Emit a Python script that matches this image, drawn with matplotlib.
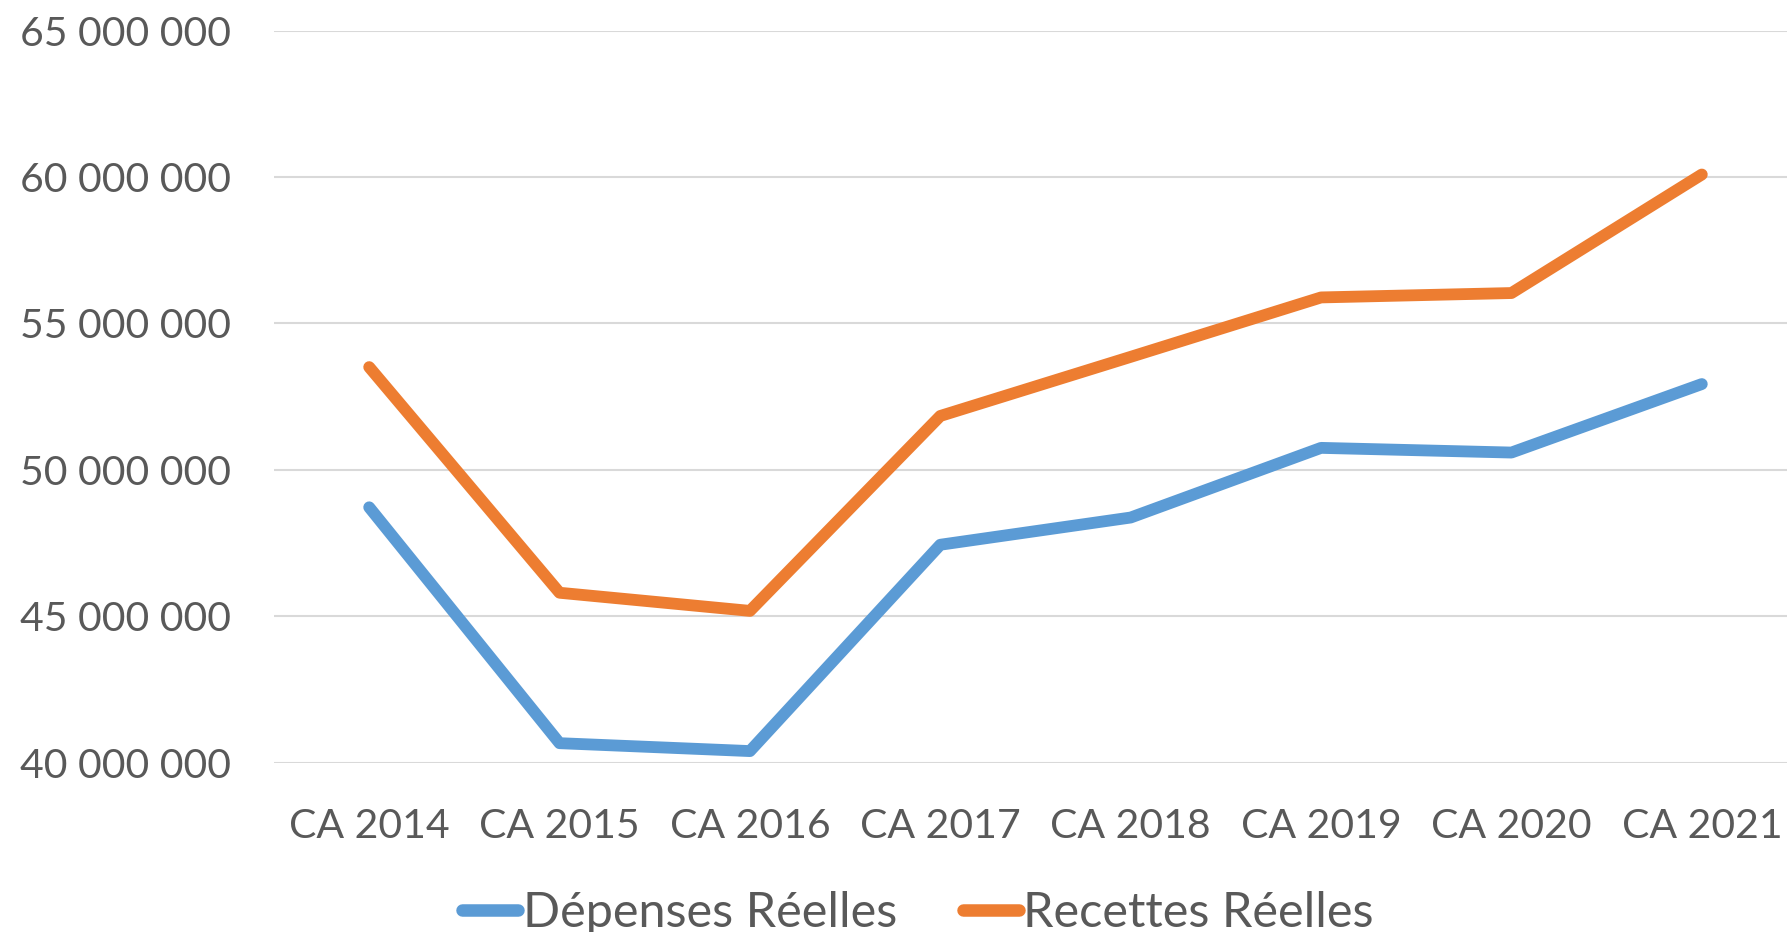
import matplotlib
matplotlib.use("Agg")
import matplotlib.pyplot as plt
from matplotlib.ticker import FuncFormatter

categories = ["CA 2014", "CA 2015", "CA 2016", "CA 2017", "CA 2018", "CA 2019", "CA 2020", "CA 2021"]
depenses = [48.72e6, 40.66e6, 40.39e6, 47.44e6, 48.37e6, 50.75e6, 50.59e6, 52.93e6]
recettes = [53.51e6, 45.80e6, 45.18e6, 51.84e6, 53.86e6, 55.89e6, 56.04e6, 60.09e6]
series_names = ["Dépenses Réelles", "Recettes Réelles"]
colors = ["#5B9BD5", "#ED7D31"]

plt.rcParams['font.family'] = ['Lato', 'DejaVu Sans']
text_color = "#595959"

fig = plt.figure(figsize=(17.87, 9.32), dpi=100)
ax = fig.add_axes([274/1787, 1 - 762.5/932, (1797-274)/1787, (762.5-30.8)/932])

x = list(range(len(categories)))
for vals, name, c in zip([depenses, recettes], series_names, colors):
    ax.plot(x, vals, color=c, lw=8.5, solid_capstyle='round', solid_joinstyle='round', label=name)

ax.set_xlim(-0.5, len(categories) - 0.5)
ax.set_ylim(40e6, 65e6)
ax.set_yticks([40e6, 45e6, 50e6, 55e6, 60e6, 65e6])
ax.yaxis.set_major_formatter(FuncFormatter(lambda v, p: f"{int(v):,}".replace(",", " ")))
ax.set_xticks(x)
ax.set_xticklabels(categories)
ax.grid(axis='y', color="#D9D9D9", lw=1.5)
ax.set_axisbelow(True)
for s in ax.spines.values():
    s.set_visible(False)
ax.tick_params(axis='both', length=0, labelsize=29.5, colors=text_color)
ax.tick_params(axis='y', pad=31)
ax.tick_params(axis='x', pad=33)

leg = fig.legend(loc='center', bbox_to_anchor=(918/1787, 1 - 913/932), ncol=2, frameon=False,
                 fontsize=35, handlelength=1.15, handletextpad=0.1, columnspacing=1.35,
                 labelcolor=text_color)
for h in leg.legend_handles:
    h.set_linewidth(9)

fig.savefig("out.png", dpi=100)
